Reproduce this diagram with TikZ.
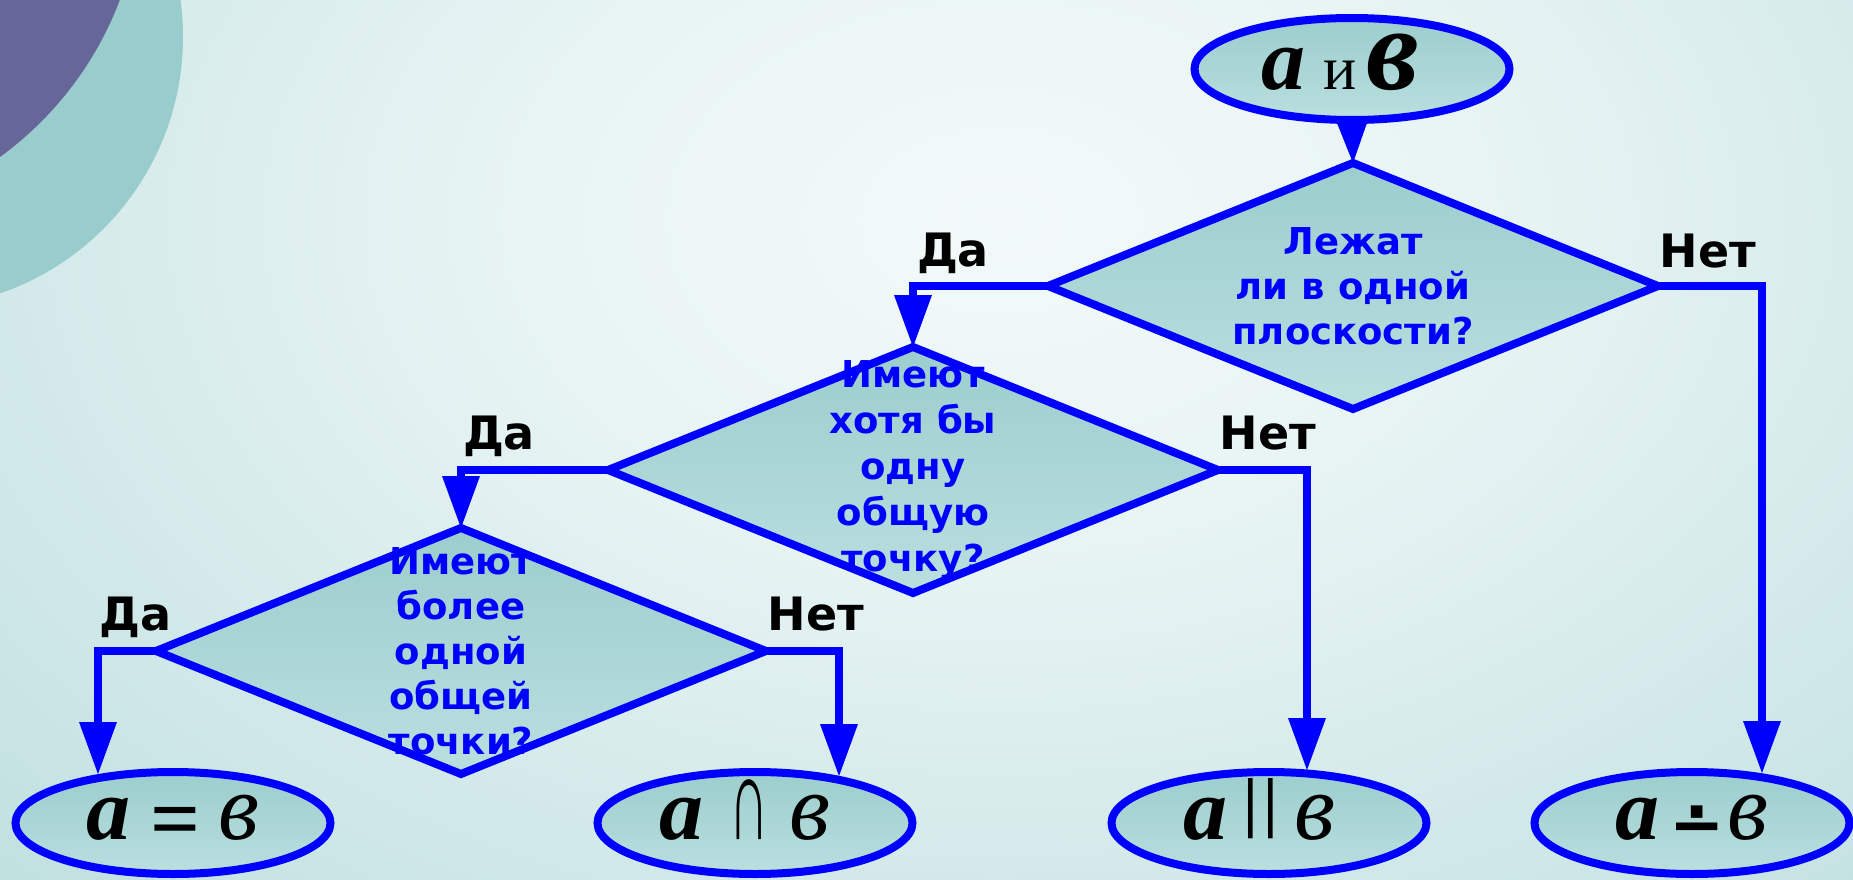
\documentclass[tikz,border=0pt]{standalone}
\usepackage{fontspec}
\usepackage{graphicx}
\setmainfont{Liberation Serif}
\newfontfamily\dvs{DejaVu Sans}
\usetikzlibrary{shapes.geometric,arrows.meta,calc}
\definecolor{bgA}{RGB}{243,249,249}
\definecolor{bgB}{RGB}{232,244,244}
\definecolor{bgD}{RGB}{205,230,230}
\definecolor{bgE}{RGB}{182,219,219}
\definecolor{bgC}{RGB}{160,207,207}
\definecolor{tealc}{RGB}{153,204,204}
\definecolor{purpc}{RGB}{102,102,153}
\definecolor{blueL}{RGB}{0,0,255}
\definecolor{fillT}{RGB}{156,205,205}
\definecolor{fillB}{RGB}{186,223,223}
\pgfdeclareradialshading{bgrad}{\pgfpoint{0bp}{0bp}}{color(0bp)=(bgA); color(8bp)=(bgB); color(19bp)=(bgD); color(27bp)=(bgE); color(40bp)=(bgC); color(50bp)=(bgC)}
\newcommand\dotminus{\raisebox{-8pt}{\dvs\bfseries\fontsize{66}{66}\selectfont ∸}}
\newcommand\onebar{\raisebox{\depth}{\resizebox{!}{46pt}{\bfseries\upshape |}}}
\newcommand\parbars{\onebar\hspace{6pt}\onebar}
\newcommand\bigv[2]{{\fontsize{#1}{#1}\selectfont #2}}
\begin{document}
\begin{tikzpicture}[x=1pt,y=-1pt,
  dia/.style={diamond, draw=blueL, line width=8pt, top color=fillT, bottom color=fillB,
    minimum width=610pt, minimum height=246pt, inner sep=0pt, outer sep=0pt},
  ell/.style={ellipse, draw=blueL, line width=8pt, top color=fillT, bottom color=fillB,
    minimum width=315pt, minimum height=102pt, inner sep=0pt, outer sep=0pt,
    font=\fontsize{88}{88}\selectfont, text height=44pt, text depth=12pt},
  qtext/.style={text=blueL, font=\dvs\bfseries\fontsize{37}{45}\selectfont, align=center, inner sep=0pt},
  lab/.style={font=\dvs\bfseries\fontsize{46}{50}\selectfont, text=black, anchor=base, inner sep=0pt},
  conn/.style={draw=blueL, line width=8pt},
  arr/.style={conn, -{Triangle[length=52pt,width=38pt,line width=0pt]}},
  arrs/.style={conn, -{Triangle[length=40pt,width=30pt,line width=0pt]}}
]
\useasboundingbox (0,0) rectangle (1853,880);
\begin{scope}
  \clip (0,0) rectangle (1853,880);
  \fill[bgC] (0,0) rectangle (1853,880);
  \shade[shading=bgrad] (1000,220) ellipse [x radius=1500pt, y radius=1000pt];
  \fill[tealc] (-88,37) circle (271pt);
  \fill[purpc] (-203,-122) circle (345pt);
\end{scope}

% decision diamonds
\node[dia] (d1) at (1353,286) {};
\node[dia] (d2) at (913,470) {};
\node[dia] (d3) at (461,651) {};

% terminal ellipses
\node[ell, text height=50pt, text depth=8pt] (e0) at (1352,69) {\bfseries\itshape a\hspace{18pt}{\fontsize{62}{62}\selectfont\mdseries\upshape и}\hspace{10pt}\bigv{118}{в}\hspace{24pt}\null};
\node[ell] (e1) at (173,823) {{\bfseries\itshape a}\hspace{20pt}\raisebox{-9pt}{\bfseries =}\hspace{18pt}{\itshape\bigv{94}{в}}};
\node[ell] (e2) at (755,823) {{\bfseries\itshape a}\hspace{26pt}\scalebox{0.62}[1.35]{∩}\hspace{20pt}{\itshape\bigv{94}{в}}\hspace{20pt}\null};
\node[ell] (e3) at (1269,823) {{\bfseries\itshape a}\hspace{16pt}\parbars\hspace{16pt}{\itshape\bigv{94}{в}}\hspace{20pt}\null};
\node[ell] (e4) at (1692,823) {{\bfseries\itshape a}\hspace{10pt}\dotminus\hspace{2pt}{\itshape\bigv{94}{в}}};

% connectors
\draw[arrs] (e0.south) -- (d1.north);
\draw[arr] (d1.west) -| (d2.north);
\draw[arr] (d1.east) -| ($(e4.center)+(70,-50)$);
\draw[arr] (d2.west) -| (d3.north);
\draw[arr] (d2.east) -| ($(e3.center)+(38,-53)$);
\draw[arr] (d3.west) -| ($(e1.center)+(-75,-49)$);
\draw[arr] (d3.east) -| ($(e2.center)+(84,-47)$);

% question texts
\node[qtext] (q1) at (d1.center) {Лежат\\ли в одной\\плоскости?};
\node[qtext, font=\dvs\bfseries\fontsize{37}{46}\selectfont] (q2) at (d2.center) {Имеют\\хотя бы\\одну\\общую\\точку?};
\node[qtext, font=\dvs\bfseries\fontsize{37}{45}\selectfont] (q3) at (d3.center) {Имеют\\более\\одной\\общей\\точки?};

% branch labels
\node[lab] (y1) at (953,266) {Да};
\node[lab] (n1) at (1708,267) {Нет};
\node[lab] (y2) at (499,449) {Да};
\node[lab] (n2) at (1268,449) {Нет};
\node[lab] (y3) at (136,630) {Да};
\node[lab] (n3) at (816,630) {Нет};
\end{tikzpicture}
\end{document}
